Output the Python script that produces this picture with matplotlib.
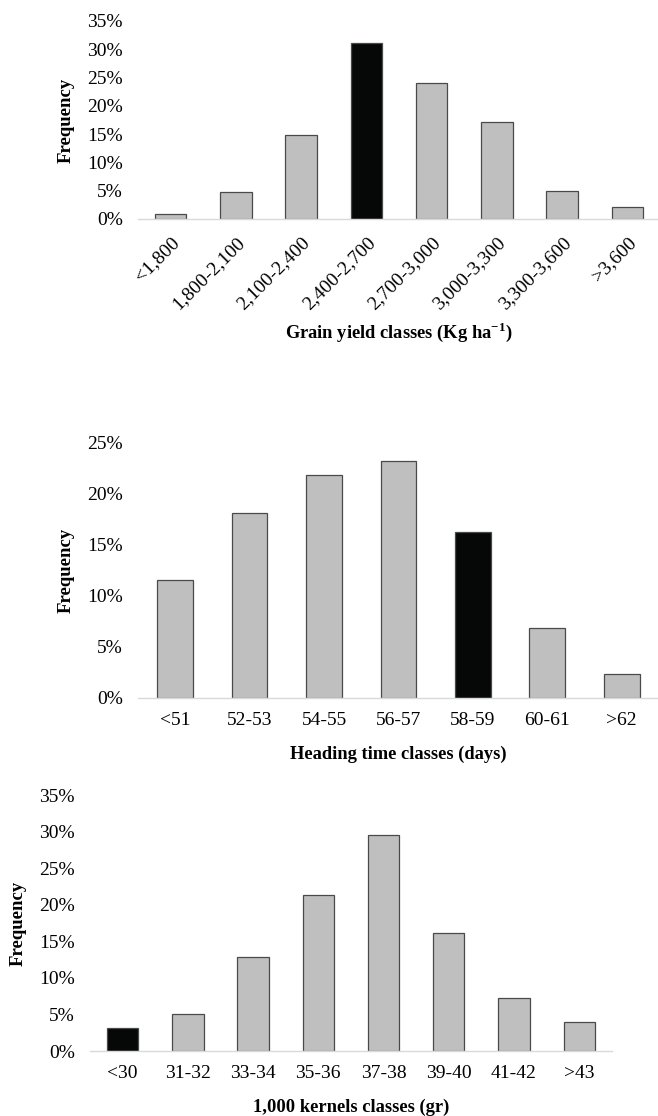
import matplotlib
matplotlib.use("Agg")
import matplotlib.pyplot as plt
from matplotlib.ticker import PercentFormatter

plt.rcParams["font.family"] = ["Liberation Serif", "DejaVu Serif"]
plt.rcParams["mathtext.fontset"] = "custom"
plt.rcParams["mathtext.rm"] = "Liberation Serif:bold"
plt.rcParams["mathtext.bf"] = "Liberation Serif:bold"

# grain yield classes
yield_classes = ["<1,800", "1,800-2,100", "2,100-2,400", "2,400-2,700",
                 "2,700-3,000", "3,000-3,300", "3,300-3,600", ">3,600"]
yield_freq = [0.83, 4.7, 14.8, 31.1, 24.0, 17.1, 5.0, 2.2]
yield_highlight = 3

# heading time classes
heading_classes = ["<51", "52-53", "54-55", "56-57", "58-59", "60-61", ">62"]
heading_freq = [11.6, 18.1, 21.8, 23.2, 16.3, 6.9, 2.3]
heading_highlight = 4

# 1,000 kernel weight classes
kernel_classes = ["<30", "31-32", "33-34", "35-36", "37-38", "39-40", "41-42", ">43"]
kernel_freq = [3.1, 5.0, 12.9, 21.3, 29.6, 16.1, 7.3, 4.0]
kernel_highlight = 0

GRAY = "#BFBFBF"
BLACK = "#060807"
EDGE = "#4a4a4a"

fig = plt.figure(figsize=(6.58, 11.16), dpi=100)


def draw(rect, classes, freq, hi, ymax, xlabel, rotate, labelpad):
    ax = fig.add_axes(rect)
    colors = [BLACK if i == hi else GRAY for i in range(len(classes))]
    ax.bar(range(len(classes)), freq, width=0.48, color=colors,
           edgecolor=EDGE, linewidth=0.9, zorder=2)
    ax.set_xlim(-0.5, len(classes) - 0.5)
    ax.set_ylim(0, ymax)
    ax.set_yticks(range(0, ymax + 1, 5))
    ax.yaxis.set_major_formatter(PercentFormatter(decimals=0))
    for s in ["top", "right", "left"]:
        ax.spines[s].set_visible(False)
    ax.spines["bottom"].set_color("#d9d9d9")
    ax.spines["bottom"].set_linewidth(1.0)
    ax.tick_params(axis="both", length=0, labelsize=14)
    ax.tick_params(axis="y", pad=11)
    ax.set_xticks(range(len(classes)))
    if rotate:
        ax.set_xticklabels(classes, rotation=45, ha="right",
                           rotation_mode="anchor")
        ax.tick_params(axis="x", pad=11)
    else:
        ax.set_xticklabels(classes)
        ax.tick_params(axis="x", pad=10)
    ax.set_ylabel("Frequency", fontsize=13.5, fontweight="bold", labelpad=9)
    ax.set_xlabel(xlabel, fontsize=13.3, fontweight="bold", labelpad=labelpad)
    return ax


draw([0.2097, 0.8038, 0.7933, 0.1774], yield_classes, yield_freq,
     yield_highlight, 35, r"Grain yield classes (Kg ha$^{-1}$)", True, 5.5)
draw([0.2097, 0.3746, 0.7918, 0.2287], heading_classes, heading_freq,
     heading_highlight, 25, "Heading time classes (days)", False, 12)
draw([0.1368, 0.0582, 0.7930, 0.2294], kernel_classes, kernel_freq,
     kernel_highlight, 35, "1,000 kernels classes (gr)", False, 12)

fig.savefig("out.png", dpi=100)
plt.close(fig)
